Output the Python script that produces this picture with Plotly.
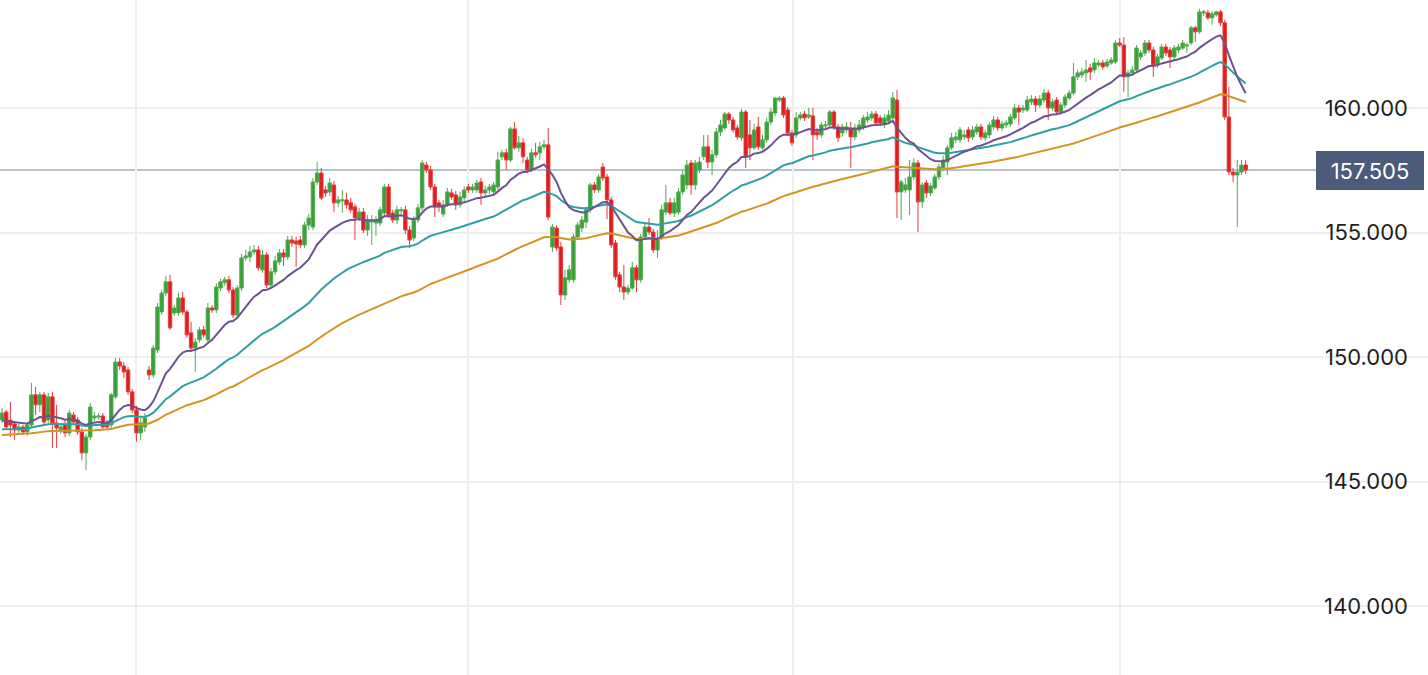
import plotly.graph_objects as go

opens = [
    147.47, 147.79, 147.47, 147.31, 147.07, 147.19, 146.99, 147.27, 148.48, 148.08,
    148.48, 147.47, 148.40, 147.35, 147.07, 147.27, 146.95, 147.67, 147.47, 146.99,
    146.15, 146.79, 147.55, 147.59, 147.63, 147.35, 147.27, 148.40, 149.80, 149.64,
    149.48, 148.60, 147.87, 146.95, 147.19, 149.48, 149.28, 150.28, 151.81, 152.57,
    153.02, 151.77, 151.77, 152.37, 151.81, 150.97, 150.36, 150.69, 151.09, 150.69,
    151.97, 151.89, 152.77, 152.98, 153.10, 152.69, 151.69, 152.77, 153.98, 154.02,
    154.22, 154.30, 153.50, 154.10, 152.89, 153.42, 153.82, 154.18, 154.02, 154.70,
    154.66, 154.70, 154.50, 155.30, 155.22, 157.03, 157.39, 156.71, 156.63, 156.91,
    156.19, 156.27, 156.31, 156.19, 156.03, 155.58, 155.82, 155.10, 155.42, 155.38,
    155.38, 155.78, 156.83, 155.78, 155.50, 155.87, 155.91, 155.10, 154.78, 155.50,
    155.99, 157.71, 157.51, 156.83, 156.19, 155.74, 156.11, 156.59, 156.51, 156.11,
    156.39, 156.83, 156.71, 156.71, 157.03, 156.59, 156.71, 156.63, 156.83, 158.04,
    158.20, 157.91, 159.16, 158.40, 158.60, 157.91, 157.51, 158.20, 158.20, 158.44,
    158.52, 154.42, 155.18, 154.42, 152.49, 153.10, 153.10, 154.82, 155.18, 155.42,
    155.91, 156.91, 156.71, 157.63, 157.23, 156.31, 154.58, 153.30, 152.81, 152.61,
    152.77, 153.58, 153.10, 154.82, 155.22, 155.02, 154.30, 154.82, 155.82, 156.19,
    155.78, 155.82, 156.63, 156.91, 157.79, 156.91, 157.51, 158.04, 158.44, 157.83,
    158.12, 159.04, 159.20, 159.76, 159.52, 159.20, 158.80, 159.84, 158.92, 158.40,
    159.24, 158.40, 158.72, 159.44, 159.80, 160.32, 160.40, 159.92, 159.00, 158.92,
    159.60, 159.76, 159.64, 159.68, 159.04, 158.92, 159.28, 159.32, 159.84, 159.24,
    159.00, 159.12, 159.20, 158.84, 159.12, 159.24, 159.52, 159.60, 159.76, 159.60,
    159.36, 159.48, 159.60, 160.32, 156.63, 156.71, 156.71, 157.23, 157.79, 156.23,
    156.99, 156.59, 156.79, 157.23, 157.59, 157.83, 158.40, 158.72, 158.72, 158.84,
    159.12, 158.84, 159.04, 159.24, 158.80, 158.92, 159.24, 159.52, 159.20, 159.32,
    159.36, 159.60, 160.00, 159.92, 159.92, 160.24, 160.36, 160.12, 160.32, 160.60,
    160.00, 160.32, 159.84, 160.12, 160.40, 160.60, 161.25, 161.33, 161.41, 161.61,
    161.53, 161.73, 161.81, 161.69, 161.81, 161.85, 162.61, 162.53, 161.25, 161.41,
    161.53, 162.05, 162.21, 162.61, 162.33, 161.73, 162.01, 162.45, 162.33, 162.05,
    162.33, 162.41, 162.49, 162.61, 163.22, 163.06, 163.82, 163.82, 163.62, 163.74,
    163.86, 163.42, 159.64, 157.43, 157.31, 157.43, 157.71,
]

highs = [
    147.95, 147.87, 148.20, 147.43, 147.31, 147.27, 147.39, 148.96, 148.80, 148.60,
    148.60, 148.56, 148.60, 148.08, 147.31, 147.47, 147.87, 147.79, 147.59, 147.15,
    146.91, 148.16, 147.79, 147.75, 147.75, 147.47, 148.56, 149.96, 149.96, 149.80,
    149.60, 148.72, 148.04, 147.55, 147.75, 149.64, 150.48, 152.17, 152.69, 153.26,
    153.30, 152.09, 152.57, 152.61, 151.89, 151.41, 150.76, 151.21, 151.25, 152.17,
    152.09, 152.97, 153.14, 153.22, 153.26, 152.81, 152.89, 154.14, 154.30, 154.46,
    154.50, 154.46, 154.30, 154.22, 153.58, 154.06, 154.34, 154.34, 154.86, 154.86,
    154.82, 154.86, 155.42, 155.74, 157.19, 157.83, 157.59, 156.87, 157.19, 157.07,
    156.47, 156.71, 156.59, 156.39, 156.15, 155.99, 155.99, 155.70, 155.70, 155.66,
    156.03, 156.95, 156.95, 155.91, 156.07, 156.03, 156.07, 155.26, 155.66, 156.15,
    157.91, 157.83, 157.67, 156.95, 156.31, 156.31, 156.79, 156.75, 156.67, 156.63,
    156.87, 156.95, 156.95, 157.11, 157.19, 156.87, 156.95, 157.03, 158.24, 158.32,
    158.36, 159.24, 159.44, 158.88, 158.80, 158.04, 158.36, 158.60, 158.64, 158.72,
    159.20, 155.34, 155.30, 154.62, 153.50, 153.70, 154.94, 155.42, 155.66, 156.03,
    156.99, 157.03, 157.35, 157.79, 157.35, 156.43, 154.70, 153.42, 153.70, 152.89,
    153.82, 153.70, 154.94, 155.34, 155.58, 155.14, 155.10, 156.11, 156.91, 156.39,
    156.39, 156.79, 157.51, 157.91, 157.91, 157.91, 158.04, 158.92, 158.92, 158.32,
    159.20, 159.52, 159.84, 159.84, 159.64, 159.32, 159.96, 159.92, 159.52, 159.36,
    159.64, 158.92, 159.60, 160.00, 160.44, 160.48, 160.48, 160.04, 159.12, 159.84,
    159.84, 159.88, 160.00, 160.00, 159.20, 159.44, 159.48, 159.92, 159.92, 159.36,
    159.36, 159.44, 159.44, 159.36, 159.52, 159.72, 159.84, 159.88, 159.88, 159.72,
    159.76, 159.92, 160.64, 160.72, 157.11, 157.19, 157.91, 157.99, 157.91, 157.03,
    157.11, 156.99, 157.35, 157.75, 158.08, 158.52, 159.00, 159.04, 159.24, 159.12,
    159.24, 159.28, 159.36, 159.36, 159.12, 159.44, 159.68, 159.64, 159.48, 159.52,
    159.76, 160.16, 160.12, 160.12, 160.48, 160.52, 160.48, 160.52, 160.76, 160.72,
    160.36, 160.44, 160.24, 160.56, 160.72, 161.81, 161.53, 161.61, 161.93, 161.77,
    162.01, 161.93, 161.93, 161.97, 162.05, 162.73, 162.81, 162.85, 161.53, 161.69,
    162.53, 162.33, 162.73, 162.73, 162.45, 162.17, 162.57, 162.57, 162.45, 162.53,
    162.57, 162.73, 162.61, 163.30, 163.30, 163.98, 163.94, 163.94, 163.90, 163.90,
    163.94, 163.54, 160.85, 157.59, 157.91, 157.91, 157.91,
]

lows = [
    147.35, 147.07, 146.79, 146.67, 146.95, 146.87, 146.83, 147.15, 147.67, 147.79,
    147.27, 147.35, 146.35, 146.35, 146.91, 146.79, 146.83, 147.27, 146.87, 145.87,
    145.46, 146.67, 147.43, 147.47, 147.07, 147.07, 147.15, 148.32, 149.48, 149.16,
    148.48, 147.75, 146.59, 146.67, 146.99, 149.08, 149.16, 150.16, 151.69, 152.45,
    151.09, 151.65, 151.65, 151.69, 150.77, 150.20, 149.40, 150.57, 150.77, 150.57,
    151.77, 151.77, 152.65, 152.86, 152.57, 151.57, 151.57, 152.65, 153.86, 153.82,
    154.10, 153.46, 153.38, 152.77, 152.77, 153.30, 153.70, 153.66, 153.90, 154.42,
    153.62, 154.38, 154.38, 155.10, 155.10, 156.91, 156.31, 156.43, 156.47, 155.83,
    156.03, 155.79, 155.95, 155.79, 154.70, 155.46, 154.98, 154.86, 154.50, 154.86,
    155.26, 155.66, 155.58, 155.38, 155.34, 155.74, 154.94, 154.38, 154.66, 155.38,
    155.87, 157.39, 156.71, 155.62, 155.83, 155.62, 156.03, 156.31, 155.91, 155.99,
    156.23, 156.59, 156.59, 156.59, 156.11, 156.47, 156.55, 156.51, 156.71, 157.91,
    157.51, 157.83, 158.32, 158.24, 157.79, 157.39, 157.43, 158.00, 157.91, 158.32,
    155.50, 154.22, 154.26, 152.09, 152.29, 152.98, 152.98, 154.70, 155.02, 155.18,
    155.79, 156.59, 156.59, 157.07, 155.54, 154.38, 153.10, 152.61, 152.29, 152.49,
    152.69, 152.61, 152.98, 154.70, 154.90, 154.18, 153.98, 154.70, 155.70, 155.70,
    155.62, 155.70, 156.51, 156.75, 156.51, 156.71, 157.39, 157.91, 157.59, 157.31,
    158.00, 158.88, 159.12, 159.36, 159.00, 158.72, 158.68, 157.59, 157.91, 158.32,
    158.32, 158.32, 158.60, 159.32, 159.68, 160.24, 159.60, 158.88, 158.48, 158.80,
    159.52, 159.48, 159.56, 157.91, 158.72, 158.80, 159.16, 159.20, 159.12, 158.64,
    158.84, 159.00, 157.59, 158.72, 159.00, 159.12, 159.40, 159.48, 159.28, 159.28,
    159.20, 159.40, 159.52, 155.58, 155.50, 156.59, 155.70, 157.11, 155.02, 155.99,
    156.39, 156.47, 156.71, 157.11, 157.47, 157.31, 158.32, 158.60, 158.60, 158.72,
    158.64, 158.72, 158.92, 158.72, 158.68, 158.80, 159.12, 159.08, 159.08, 159.20,
    159.24, 159.52, 159.32, 159.80, 159.84, 160.12, 159.84, 160.00, 160.20, 159.52,
    159.88, 159.72, 159.72, 160.00, 160.32, 160.52, 161.13, 161.21, 161.05, 161.13,
    161.41, 161.65, 161.53, 161.61, 161.73, 161.77, 162.45, 160.65, 160.44, 161.29,
    161.41, 161.93, 162.09, 162.21, 161.25, 161.61, 161.93, 162.09, 161.61, 161.93,
    162.21, 162.33, 162.21, 162.53, 162.65, 162.98, 163.70, 163.54, 163.34, 163.66,
    163.30, 159.52, 157.31, 157.03, 155.22, 157.31, 157.35,
]

closes = [
    147.75, 147.19, 147.27, 147.07, 147.19, 146.99, 147.27, 148.48, 148.08, 148.48,
    147.39, 148.40, 147.35, 147.15, 147.19, 146.95, 147.75, 147.39, 146.99, 146.15,
    146.79, 147.99, 147.63, 147.63, 147.19, 147.19, 148.48, 149.80, 149.64, 149.40,
    148.60, 147.87, 146.95, 147.35, 147.55, 149.28, 150.36, 152.01, 152.57, 153.02,
    151.17, 151.97, 152.37, 151.81, 150.89, 150.36, 150.60, 151.09, 150.89, 151.97,
    151.89, 152.81, 153.02, 153.10, 152.69, 151.69, 152.77, 153.98, 154.06, 154.22,
    154.30, 153.58, 154.10, 152.89, 153.42, 153.86, 154.18, 154.02, 154.70, 154.58,
    154.54, 154.50, 155.30, 155.58, 157.03, 157.39, 156.39, 156.59, 156.99, 156.19,
    156.31, 156.31, 156.11, 155.91, 155.58, 155.82, 155.10, 155.50, 155.46, 155.50,
    155.91, 156.83, 155.70, 155.50, 155.91, 155.91, 155.10, 154.70, 155.50, 155.99,
    157.79, 157.51, 156.83, 156.03, 156.03, 156.11, 156.63, 156.43, 156.11, 156.43,
    156.71, 156.71, 156.83, 156.99, 156.59, 156.71, 156.83, 156.91, 157.91, 158.20,
    157.91, 159.16, 158.40, 158.60, 158.04, 157.51, 158.20, 158.12, 158.44, 158.52,
    155.62, 155.22, 154.38, 152.49, 153.18, 153.50, 154.82, 155.30, 155.50, 155.91,
    156.91, 156.71, 157.23, 157.19, 156.31, 154.50, 153.22, 152.81, 152.61, 152.77,
    153.58, 153.10, 154.82, 155.22, 155.02, 154.30, 154.78, 155.91, 156.19, 155.78,
    156.19, 156.63, 157.31, 157.71, 156.91, 157.79, 157.83, 158.44, 157.83, 158.12,
    159.04, 159.32, 159.76, 159.52, 159.12, 158.84, 159.84, 158.04, 158.40, 159.12,
    158.44, 158.72, 159.44, 159.84, 160.40, 160.40, 159.72, 159.00, 158.60, 159.60,
    159.72, 159.60, 159.72, 158.92, 158.92, 159.32, 159.32, 159.84, 159.24, 158.80,
    159.24, 159.24, 158.84, 159.20, 159.32, 159.60, 159.64, 159.76, 159.40, 159.40,
    159.60, 159.72, 160.40, 156.63, 157.03, 156.91, 157.23, 157.79, 156.23, 156.91,
    156.59, 156.87, 157.23, 157.63, 157.91, 158.40, 158.80, 158.84, 159.12, 158.92,
    158.80, 159.12, 159.24, 158.84, 159.00, 159.32, 159.52, 159.20, 159.36, 159.40,
    159.64, 160.00, 159.84, 160.00, 160.32, 160.36, 160.12, 160.36, 160.60, 160.00,
    160.24, 159.84, 160.12, 160.44, 160.60, 161.25, 161.41, 161.45, 161.53, 161.45,
    161.81, 161.81, 161.65, 161.85, 161.93, 162.61, 162.53, 161.25, 161.41, 161.53,
    162.41, 162.21, 162.61, 162.33, 161.73, 162.05, 162.45, 162.21, 162.05, 162.41,
    162.45, 162.61, 162.53, 163.22, 163.06, 163.86, 163.86, 163.62, 163.78, 163.86,
    163.42, 159.64, 157.43, 157.31, 157.43, 157.71, 157.505,
]

# moving-average settings: (period, value at first visible bar, colour)
ma_specs = [
    (100, 146.87, "#d39422"),
    (50, 147.10, "#2e9fa2"),
    (20, 147.45, "#6d5190"),
]

y_ticks = [140, 145, 150, 155, 160]
last_price = closes[-1]

n = len(closes)
assert len(opens) == len(highs) == len(lows) == n
bars = list(range(n))


def ema(values, period, seed):
    a = 2.0 / (period + 1)
    out = [seed]
    for v in values[1:]:
        out.append(out[-1] + a * (v - out[-1]))
    return out


fig = go.Figure()
fig.add_trace(go.Candlestick(
    x=bars, open=opens, high=highs, low=lows, close=closes,
    increasing=dict(fillcolor="#39a039", line=dict(color="#4eac4e", width=1)),
    decreasing=dict(fillcolor="#e01d1d", line=dict(color="#e53c3c", width=1)),
    whiskerwidth=0, showlegend=False, hoverinfo="skip",
))

for period, seed, color in ma_specs:
    fig.add_trace(go.Scatter(
        x=bars, y=ema(closes, period, seed), mode="lines",
        line=dict(color=color, width=2), showlegend=False, hoverinfo="skip",
    ))

px_per_bar = 4.2017
x_lo = -2.0 / px_per_bar
x_hi = x_lo + 1428 / px_per_bar
grid_x = [31.9, 110.9, 188.3, 266.1]

fig.add_shape(type="line", xref="x", yref="paper", x0=grid_x[1], x1=grid_x[1],
              y0=0, y1=1, line=dict(color="#dcdcdc", width=2), layer="below")
fig.add_shape(type="line", xref="paper", yref="y", x0=0, x1=0.925,
              y0=last_price, y1=last_price, line=dict(color="#a3adbf", width=1.5),
              layer="below")
fig.add_annotation(
    xref="paper", yref="y", x=1, y=last_price, xanchor="right", yanchor="middle",
    xshift=-4, text=f"{last_price:.3f}", showarrow=False,
    font=dict(family="Inter, Roboto, sans-serif", size=22, color="#ffffff"),
    bgcolor="#4a5c7a", borderpad=6, borderwidth=0, width=96, height=27,
    align="center",
)

fig.update_layout(
    width=1428, height=675,
    margin=dict(l=0, r=0, t=0, b=0),
    paper_bgcolor="#ffffff", plot_bgcolor="#ffffff",
    showlegend=False,
    boxgap=0.1, boxgroupgap=0.1,
    xaxis=dict(
        range=[x_lo, x_hi], rangeslider=dict(visible=False),
        tickvals=grid_x, showticklabels=False, ticks="",
        showgrid=True, gridcolor="#eeeeee", gridwidth=2,
        zeroline=False, showline=False, fixedrange=True,
    ),
    yaxis=dict(
        range=[137.229, 164.337], side="right", ticklabelposition="inside",
        tickvals=y_ticks, tickformat=".3f", ticks="",
        ticklabelstandoff=17,
        tickfont=dict(family="Inter, Roboto, sans-serif", size=22, color="#1e1e1e"),
        showgrid=True, gridcolor="#eeeeee", gridwidth=2,
        zeroline=False, showline=False, fixedrange=True,
    ),
)

fig.write_html(
    "out.html",
    config={"displayModeBar": False},
    post_script="document.body.style.margin='0';document.body.style.overflow='hidden';",
)
